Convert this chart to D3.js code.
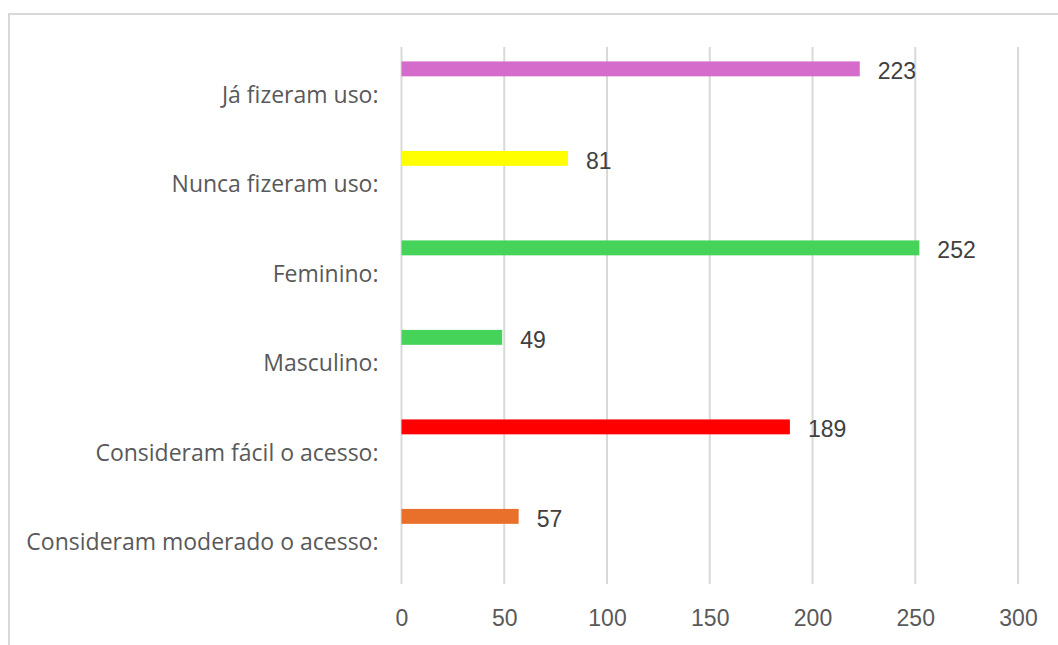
<!DOCTYPE html>
<html><head><meta charset="utf-8">
<script src="https://cdn.jsdelivr.net/npm/d3@7"></script>
<style>html,body{margin:0;padding:0;background:#fff;overflow:hidden}</style>
</head><body>
<svg id="c" width="1058" height="645"></svg>
<script>
const categories = ["Já fizeram uso:", "Nunca fizeram uso:", "Feminino:", "Masculino:", "Consideram fácil o acesso:", "Consideram moderado o acesso:"];
const values = [223, 81, 252, 49, 189, 57];
const colors = ["#D56BCB", "#FFFF00", "#45D35A", "#45D35A", "#FF0000", "#E8702A"];
const xTicks = [0, 50, 100, 150, 200, 250, 300];

const svg = d3.select("#c");
// chart frame
svg.append("rect").attr("x", 9).attr("y", 14).attr("width", 1100).attr("height", 700)
  .attr("fill", "#fff").attr("stroke", "#d9d9d9").attr("stroke-width", 2);

const plotL = 401.5, plotR = 1018, plotT = 47, plotB = 584;
const x = d3.scaleLinear().domain([0, 300]).range([plotL, plotR]);
const y = d3.scaleBand().domain(categories).range([plotT, plotB]).padding(0);
const sub = d3.scaleBand().domain(d3.range(6)).range([0, y.bandwidth()]);

// gridlines
svg.append("g").selectAll("line").data(xTicks).join("line")
  .attr("x1", d => x(d)).attr("x2", d => x(d)).attr("y1", plotT).attr("y2", plotB)
  .attr("stroke", "#d9d9d9").attr("stroke-width", 2);

// x axis labels
const xAxis = d3.axisBottom(x).tickValues(xTicks).tickSize(0).tickPadding(0);
const gx = svg.append("g").attr("transform", `translate(0,${plotB})`).call(xAxis);
gx.select(".domain").remove();
gx.selectAll("text").attr("font-family", "Liberation Sans, Arial, sans-serif")
  .attr("font-size", 23).attr("fill", "#595959").attr("y", 34).attr("dy", "0.35em");

// y labels
const yAxis = d3.axisLeft(y).tickSize(0).tickPadding(0);
const gy = svg.append("g").attr("transform", `translate(${plotL - 23},0)`).call(yAxis);
gy.select(".domain").remove();
gy.selectAll("text").attr("font-family", "Open Sans, sans-serif").attr("font-size", 23)
  .attr("fill", "#595959").attr("y", 3).attr("dy", "0.35em");

// bars
svg.append("g").selectAll("rect").data(categories).join("rect")
  .attr("x", x(0)).attr("y", (d) => y(d) + sub(1) - 0.5)
  .attr("width", (d, i) => x(values[i]) - x(0)).attr("height", sub.bandwidth())
  .attr("fill", (d, i) => colors[i]);

// value labels
svg.append("g").selectAll("text").data(categories).join("text")
  .attr("x", (d, i) => x(values[i]) + 18).attr("y", d => y(d) + sub(1) + sub.bandwidth() / 2 + 2)
  .attr("dy", "0.35em").attr("font-family", "Liberation Sans, Arial, sans-serif")
  .attr("font-size", 23).attr("fill", "#404040").text((d, i) => values[i]);
</script>
</body></html>
